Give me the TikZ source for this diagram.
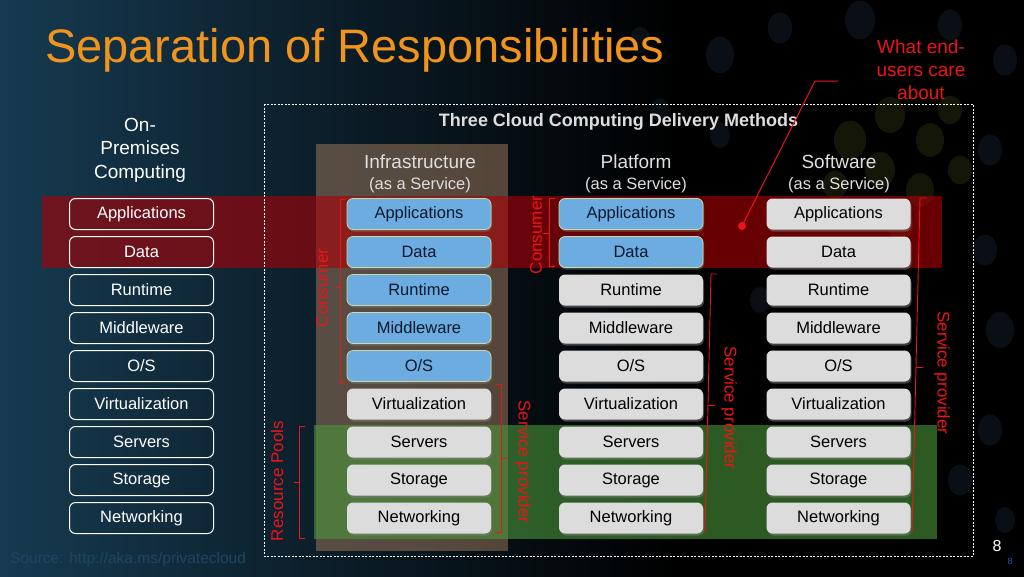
\documentclass[tikz,border=0pt]{standalone}
\usepackage{fontspec}
\setmainfont{Liberation Sans}
\usetikzlibrary{shadows}
\definecolor{bgblue}{RGB}{22,58,80}
\definecolor{titleor}{RGB}{240,148,30}
\definecolor{boxblue}{RGB}{108,172,224}
\definecolor{boxgray}{RGB}{220,220,220}
\definecolor{boxedge}{RGB}{205,215,160}
\definecolor{boxtext}{RGB}{10,25,45}
\definecolor{annred}{RGB}{235,20,25}
\definecolor{bandred}{RGB}{170,0,5}
\definecolor{bandgreen}{RGB}{75,150,58}
\definecolor{colbrown}{RGB}{165,125,95}
\definecolor{srcblue}{RGB}{30,70,100}
\definecolor{hdrgray}{RGB}{222,222,222}
\definecolor{bokehblue}{RGB}{45,75,100}
\definecolor{bokehyel}{RGB}{95,105,40}
\definecolor{pgblue}{RGB}{40,90,160}
\pgfdeclarehorizontalshading{bgshade}{100bp}{color(0bp)=(bgblue); color(25bp)=(bgblue); color(58bp)=(black); color(100bp)=(black)}
\newcommand{\mkrow}[4]{%
  \node[opbox] (op#1) at (141.5,{214+38*(#1-1)}) {#2};
  \node[#3] (ia#1) at (419,{214+38*(#1-1)}) {#2};
  \node[#4] (pa#1) at (631,{214+38*(#1-1)}) {#2};
  \node[graybox] (sa#1) at (838.5,{214+38*(#1-1)}) {#2};}
\begin{document}
\begin{tikzpicture}[x=1pt,y=-1pt,
  layerbox/.style={rounded corners=6pt, minimum width=144pt, minimum height=31pt, inner sep=0pt, font=\fontsize{16.5}{18}\selectfont},
  opbox/.style={layerbox, draw=white, line width=1pt, text=white},
  bluebox/.style={layerbox, fill=boxblue, draw=boxedge, line width=0.8pt, text=boxtext, drop shadow={shadow xshift=1pt, shadow yshift=-2pt, opacity=0.5}},
  graybox/.style={layerbox, fill=boxgray, text=black, drop shadow={shadow xshift=1pt, shadow yshift=-2pt, opacity=0.5}},
  brk/.style={draw=annred, line width=0.9pt},
  annlabel/.style={text=annred, font=\fontsize{17}{19}\selectfont, inner sep=0pt},
  hdr/.style={text=hdrgray, font=\fontsize{19}{21}\selectfont, inner sep=0pt},
  subhdr/.style={text=hdrgray, font=\fontsize{16.5}{18}\selectfont, inner sep=0pt},
  bokehb/.style={fill=bokehblue, opacity=0.2},
  bokehy/.style={fill=bokehyel, opacity=0.22}]
\useasboundingbox (0,0) rectangle (1024,576);
% background
\shade[shading=bgshade] (0,0) rectangle (1024,576);
% bokeh
\foreach \bx/\by/\br in {640/40/10, 720/55/14, 780/28/12, 860/20/15, 950/25/12, 1005/60/12, 990/150/12, 985/250/12, 1000/330/14, 990/430/12, 1005/520/10, 720/135/10, 660/110/9, 760/300/10, 960/480/12}
  \fill[bokehb] (\bx,\by) ellipse ({\br*1.0} and {\br*1.3});
\foreach \bx/\by/\br in {850/140/16, 890/115/15, 930/140/14, 880/170/15, 920/190/14, 950/110/12, 960/170/12, 835/185/12, 900/225/13}
  \fill[bokehy] (\bx,\by) ellipse ({\br*1.0} and {\br*1.2});
% title
\node[anchor=base west, text=titleor, font=\fontsize{47}{50}\selectfont, inner sep=0pt] (title) at (45,62) {Separation of Responsibilities};
% IaaS column and bands
\fill[colbrown, opacity=0.5] (316,144) rectangle (508,551);
\fill[bandred, opacity=0.6] (42,196) rectangle (942,268);
\fill[bandgreen, opacity=0.6] (314,425) rectangle (937,539);
% dashed frame
\draw[white, dash pattern=on 2pt off 1.5pt, line width=0.7pt] (264,104) rectangle (973,556);
% headings
\node[text=hdrgray, font=\bfseries\fontsize{18}{20}\selectfont, inner sep=0pt] (methods) at (618.5,122) {Three Cloud Computing Delivery Methods};
\node[align=center, text=white, font=\fontsize{19}{23.5}\selectfont, inner sep=0pt] (onprem) at (140,150) {On-\\Premises\\Computing};
\node[hdr] (ihead) at (420,162) {Infrastructure};
\node[subhdr] (isub) at (420,185) {(as a Service)};
\node[hdr] (phead) at (636,162) {Platform};
\node[subhdr] (psub) at (636,185) {(as a Service)};
\node[hdr] (shead) at (839,162) {Software};
\node[subhdr] (ssub) at (839,185) {(as a Service)};
% layer boxes
\mkrow{1}{Applications}{bluebox}{bluebox}
\mkrow{2}{Data}{bluebox}{bluebox}
\mkrow{3}{Runtime}{bluebox}{graybox}
\mkrow{4}{Middleware}{bluebox}{graybox}
\mkrow{5}{O/S}{bluebox}{graybox}
\mkrow{6}{Virtualization}{graybox}{graybox}
\mkrow{7}{Servers}{graybox}{graybox}
\mkrow{8}{Storage}{graybox}{graybox}
\mkrow{9}{Networking}{graybox}{graybox}
% brackets and labels
\draw[brk] (345,199) -- (340,199) -- (340,383) -- (345,383);
\draw[brk] (340,287) -- (335,287);
\node[annlabel, rotate=90] (icons) at (322,288) {Consumer};
\draw[brk] (555,198) -- (549,198) -- (549,266) -- (555,266);
\draw[brk] (549,233) -- (543,233);
\node[annlabel, rotate=90] (pcons) at (536,235) {Consumer};
\draw[brk] (305,426) -- (299,426) -- (299,538) -- (305,538);
\draw[brk] (299,482) -- (294,482);
\node[annlabel, rotate=90] (rpools) at (277,481) {Resource Pools};
\draw[brk] (495,384) -- (501,384) -- (501,532) -- (495,532);
\draw[brk] (501,458) -- (507,458);
\node[annlabel, rotate=-90] (isp) at (523,462) {Service provider};
\draw[brk] (717,274) -- (711,274) -- (705,533);
\draw[brk] (708,405) -- (715,405);
\node[annlabel, rotate=-90] (psp) at (729,408) {Service provider};
\draw[brk] (927,198) -- (920,198) -- (912,533);
\draw[brk] (916,367) -- (923,367);
\node[annlabel, rotate=-90] (ssp) at (942,373) {Service provider};
% end-user note
\node[align=center, text=annred, font=\fontsize{19}{23}\selectfont, inner sep=0pt] (care) at (921,70) {What end-\\users care\\about};
\node[circle, fill=annred, inner sep=0pt, minimum size=8pt] (dot) at (742,226) {};
\coordinate (elb) at (815,81);
\coordinate (lend) at (838,81);
\draw[annred, line width=1pt] (dot.center) -- (elb) -- (lend);
% footer
\node[anchor=base west, text=srcblue, font=\fontsize{15.5}{17}\selectfont, inner sep=0pt] (src) at (10,563) {Source: http://aka.ms/privatecloud};
\node[text=white, font=\fontsize{16}{18}\selectfont, inner sep=0pt] (pg) at (997,546) {8};
\node[text=pgblue, font=\fontsize{9}{10}\selectfont, inner sep=0pt] (pgs) at (1010,561) {8};
\end{tikzpicture}
\end{document}
